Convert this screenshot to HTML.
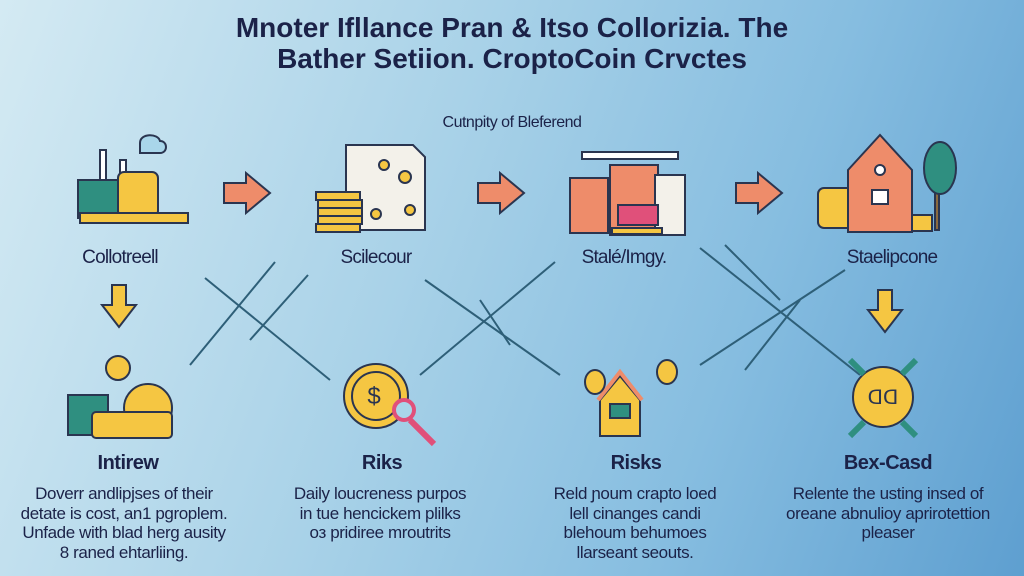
<!DOCTYPE html>
<html><head><style>
body{margin:0;width:1024px;height:576px;overflow:hidden;background:linear-gradient(110deg,#d4eaf3 0%,#a9d2e8 40%,#86bde0 70%,#5e9fd0 100%);font-family:"Liberation Sans",sans-serif;position:relative;color:#1b2248}
.t{position:absolute;left:0;width:1024px;text-align:center;font-weight:bold;font-size:28px;letter-spacing:0px}
.lab{position:absolute;width:200px;text-align:center;font-size:19px;letter-spacing:-0.8px}
.h{position:absolute;width:200px;text-align:center;font-size:20px;font-weight:bold;letter-spacing:-0.5px}
.d{position:absolute;width:280px;text-align:center;font-size:17px;line-height:19.5px;color:#1b2248;letter-spacing:-0.4px}
</style></head><body>
<div class="t" style="top:12px">Mnoter Ifllance Pran &amp; Itso Collorizia. The</div>
<div class="t" style="top:43px">Bather Setiion. CroptoCoin Crvctes</div>
<div style="position:absolute;top:114px;left:0;width:1024px;text-align:center;font-size:16px;letter-spacing:-0.5px">Cutnpity of Blеferend</div>
<svg width="1024" height="576" style="position:absolute;left:0;top:0">
<g stroke="#2e5f78" stroke-width="2" fill="none">
<path d="M205 278 L330 380"/><path d="M275 262 L190 365"/><path d="M308 275 L250 340"/>
<path d="M425 280 L560 375"/><path d="M555 262 L420 375"/><path d="M480 300 L510 345"/>
<path d="M700 248 L860 375"/><path d="M845 270 L700 365"/><path d="M725 245 L780 300"/><path d="M800 300 L745 370"/>
</g>
<g fill="#ee8c6a" stroke="#2a3550" stroke-width="2">
<path d="M224 183h22v-10l24 20-24 20v-10h-22z"/>
<path d="M478 183h22v-10l24 20-24 20v-10h-22z"/>
<path d="M736 183h22v-10l24 20-24 20v-10h-22z"/>
</g>
<g fill="#f5c642" stroke="#2a3550" stroke-width="2">
<path d="M112 285h14v20h10l-17 22-17-22h10z"/>
<path d="M878 290h14v20h10l-17 22-17-22h10z"/>
</g>
<g stroke="#2a3550" stroke-width="2">
<rect x="100" y="150" width="6" height="60" fill="#fff"/><rect x="120" y="160" width="6" height="50" fill="#fff"/>
<rect x="78" y="180" width="50" height="38" fill="#2f8f80"/>
<rect x="118" y="172" width="40" height="45" rx="6" fill="#f5c642"/>
<rect x="80" y="213" width="108" height="10" fill="#f5c642"/>
<path d="M140 143c0-10 18-10 20-2c8 0 8 12 0 12h-20z" fill="#a9d6ea"/>
</g>
<g stroke="#2a3550" stroke-width="2">
<path d="M346 145h67l12 12v73h-79z" fill="#f3f1ea"/>
<g fill="#f5c642"><rect x="316" y="192" width="44" height="8"/><rect x="318" y="200" width="44" height="8"/><rect x="318" y="208" width="44" height="8"/><rect x="318" y="216" width="44" height="8"/><rect x="316" y="224" width="44" height="8"/>
<circle cx="384" cy="165" r="5"/><circle cx="405" cy="177" r="6"/><circle cx="376" cy="214" r="5"/><circle cx="410" cy="210" r="5"/></g>
</g>
<g stroke="#2a3550" stroke-width="2">
<rect x="582" y="152" width="96" height="7" fill="#fff"/>
<rect x="570" y="178" width="38" height="55" fill="#ee8c6a"/>
<rect x="610" y="165" width="48" height="70" fill="#ee8c6a"/>
<rect x="655" y="175" width="30" height="60" fill="#f3f1ea"/>
<rect x="618" y="205" width="40" height="20" fill="#e0507a"/>
<rect x="612" y="228" width="50" height="6" fill="#f5c642"/>
</g>
<g stroke="#2a3550" stroke-width="2">
<rect x="818" y="188" width="44" height="40" rx="6" fill="#f5c642"/>
<path d="M848 170l32-35 32 35v62h-64z" fill="#ee8c6a"/>
<circle cx="880" cy="170" r="5" fill="#fff"/><rect x="872" y="190" width="16" height="14" fill="#fff"/>
<rect x="935" y="180" width="4" height="50" fill="#8a6a40"/>
<ellipse cx="940" cy="168" rx="16" ry="26" fill="#2f8f80"/>
<rect x="912" y="215" width="20" height="16" fill="#f5c642"/>
</g>
<g stroke="#2a3550" stroke-width="2">
<circle cx="118" cy="368" r="12" fill="#f5c642"/>
<rect x="68" y="395" width="40" height="40" fill="#2f8f80"/>
<circle cx="148" cy="408" r="24" fill="#f5c642"/>
<rect x="92" y="412" width="80" height="26" rx="4" fill="#f5c642"/>
<circle cx="376" cy="396" r="32" fill="#f5c642"/><circle cx="376" cy="396" r="24" fill="#f5c642"/>
<path d="M410 420l24 24" stroke="#e0507a" stroke-width="6"/><circle cx="404" cy="410" r="10" fill="#a9d6ea" stroke="#e0507a" stroke-width="4"/>
<path d="M600 400l20-24 20 24v36h-40z" fill="#f5c642"/><path d="M598 400l22-28 22 28" stroke="#ee8c6a" stroke-width="4" fill="none"/>
<rect x="610" y="404" width="20" height="14" fill="#2f8f80"/>
<ellipse cx="595" cy="382" rx="10" ry="12" fill="#f5c642"/><ellipse cx="667" cy="372" rx="10" ry="12" fill="#f5c642"/>
<circle cx="883" cy="397" r="30" fill="#f5c642"/>
<path d="M850 360l14 14M916 360l-14 14M850 436l14-14M916 436l-14-14" stroke="#2f8f80" stroke-width="6"/>
</g>
<text x="883" y="404" text-anchor="middle" font-size="20" fill="#2a3550" font-family="Liberation Sans">ᗡᗡ</text>
<text x="374" y="404" text-anchor="middle" font-size="24" fill="#2a3550" font-family="Liberation Sans">$</text>
</svg>
<div class="lab" style="left:20px;top:247px">Collotreell</div>
<div class="lab" style="left:276px;top:247px">Scilecour</div>
<div class="lab" style="left:524px;top:247px">Stalé/Imgy.</div>
<div class="lab" style="left:792px;top:247px">Staelipcone</div>
<div class="h" style="left:28px;top:452px">Intirew</div>
<div class="h" style="left:282px;top:452px">Riks</div>
<div class="h" style="left:536px;top:452px">Risks</div>
<div class="h" style="left:788px;top:452px">Bex-Casd</div>
<div class="d" style="left:-16px;top:484px">Dovеrr andlipjses of their<br>detate is cost, an1 pgroplem.<br>Unfade with blad herg ausity<br>8 raned ehtarliing.</div>
<div class="d" style="left:240px;top:484px">Daily loucreness purpos<br>in tue hencickem plilks<br>oз pridiree mroutrits</div>
<div class="d" style="left:495px;top:484px">Reld ɲoum crapto loed<br>lell cinanges candi<br>blehoum behumoes<br>llarseant seouts.</div>
<div class="d" style="left:748px;top:484px">Relente the usting insed of<br>oreane abnulioy aprirotettion<br>pleaser</div>
</body></html>
